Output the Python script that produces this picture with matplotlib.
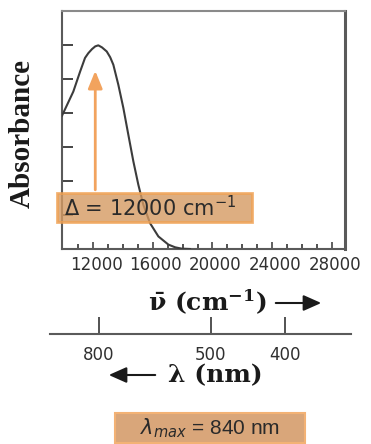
import matplotlib
matplotlib.use("Agg")
import matplotlib.pyplot as plt
from matplotlib.patches import Rectangle, FancyArrowPatch
import matplotlib.transforms as mtransforms

# ---- data ----
wavenumber = [9922, 10680, 11129, 11464, 11685, 11933, 12150, 12355, 12600, 12918,
              13150, 13361, 13696, 14031, 14366, 14701, 15036, 15371, 15820, 16377,
              17047, 17500, 17945, 18500]
absorbance = [3.92, 4.63, 5.21, 5.62, 5.76, 5.88, 5.96, 5.99, 5.93, 5.81,
              5.64, 5.42, 4.83, 4.15, 3.36, 2.58, 1.89, 1.30, 0.76, 0.37,
              0.13, 0.05, 0.01, 0.0]

nu_major = [12000, 16000, 20000, 24000, 28000]
nu_labels = ["12000", "16000", "20000", "24000", "28000"]
nu_minor = list(range(11000, 28000, 1000))
y_ticks = [1, 2, 3, 4, 5, 6]

lam_ticks = [800, 500, 400]
lam_labels = ["800", "500", "400"]

delta_text = r"Δ = 12000 cm$^{-1}$"
lmax_text = r"$\lambda_{\mathit{max}}$ = 840 nm"

W, H = 371, 444
fig = plt.figure(figsize=(W / 100, H / 100), dpi=100)

def fx(x):
    return x / W

def fy(y):
    return 1 - y / H

SP = "#5a5a5a"
ORANGE = "#f2a35e"

# ---- main axes ----
ax = fig.add_axes([fx(62), fy(249), fx(345) - fx(62), fy(11) - fy(249)])
ax.plot(wavenumber, absorbance, color="#3c3c3c", lw=1.5, zorder=3)
ax.set_xlim(9922, 28880)
ax.set_ylim(0, 7)
ax.set_xticks(nu_major)
ax.set_xticklabels(nu_labels, fontfamily="DejaVu Sans", fontsize=12, color="#303030")
ax.set_xticks(nu_minor, minor=True)
ax.set_yticks(y_ticks)
ax.set_yticklabels([])
ax.tick_params(axis="x", which="major", direction="in", length=5, width=1.2, color="#444", pad=5)
ax.tick_params(axis="x", which="minor", direction="in", length=3.5, width=1.2, color="#333")
ax.tick_params(axis="y", direction="in", length=8, width=1.4, color="#444")
for s in ax.spines.values():
    s.set_color(SP)
    s.set_linewidth(1.5)
ax.spines["right"].set_linewidth(2.2)
ax.spines["top"].set_color("#8a8a8a")
off = mtransforms.ScaledTranslation(3 / 100, 0, fig.dpi_scale_trans)
for lab in ax.get_xticklabels():
    lab.set_transform(lab.get_transform() + off)

ax.annotate("", xy=(12150, 5.24), xytext=(12150, 1.74),
            arrowprops=dict(arrowstyle="-|>,head_length=1.05,head_width=0.43",
                            color=ORANGE, lw=2, mutation_scale=10, shrinkA=0, shrinkB=0),
            zorder=4)

fig.text(fx(22), fy(133), "Absorbance", rotation=90, ha="center", va="center",
         fontfamily="Liberation Serif", fontweight="bold", fontsize=21, color="#1a1a1a")

# Delta box
fig.add_artist(Rectangle((fx(57), fy(222)), fx(252) - fx(57), fy(193) - fy(222),
                         transform=fig.transFigure, facecolor="#d59a62", alpha=0.8,
                         edgecolor="#f0a050", lw=2, zorder=5))
fig.text(fx(64), fy(208), delta_text, ha="left", va="center",
         fontfamily="DejaVu Sans", fontsize=15, color="#2a2a2a", zorder=6)

# ---- wavelength axis ----
ax2 = fig.add_axes([fx(50), fy(334), fx(351) - fx(50), 0.04])
ax2.set_facecolor("none")
ax2.set_xlim(9207, 29435)
ax2.set_ylim(0, 1)
ax2.set_xticks([1e7 / l for l in lam_ticks])
ax2.set_xticklabels(lam_labels, fontfamily="DejaVu Sans", fontsize=12, color="#303030")
ax2.set_yticks([])
for k in ["left", "right", "top"]:
    ax2.spines[k].set_visible(False)
ax2.spines["bottom"].set_color(SP)
ax2.spines["bottom"].set_linewidth(1.5)
ax2.tick_params(axis="x", direction="in", length=12, width=1.3, color="#444", pad=9)

# axis titles
fig.text(fx(207), fy(302), r"$\mathbf{\bar{\nu}}$ (cm$^{\mathbf{-1}}$)", ha="center", va="center",
         fontfamily="DejaVu Serif", fontweight="bold", fontsize=18, color="#1a1a1a",
         math_fontfamily="dejavuserif")
fig.add_artist(FancyArrowPatch((fx(273), fy(303)), (fx(324), fy(303)), transform=fig.transFigure,
                               arrowstyle="-|>,head_length=0.9,head_width=0.4", mutation_scale=12,
                               color="#1a1a1a", lw=1.5))
fig.text(fx(215), fy(375), "λ (nm)", ha="center", va="center",
         fontfamily="DejaVu Serif", fontweight="bold", fontsize=18, color="#1a1a1a")
fig.add_artist(FancyArrowPatch((fx(158), fy(375)), (fx(106), fy(375)), transform=fig.transFigure,
                               arrowstyle="-|>,head_length=0.9,head_width=0.4", mutation_scale=12,
                               color="#1a1a1a", lw=1.5))

# lambda max box
fig.add_artist(Rectangle((fx(115), fy(443)), fx(305) - fx(115), fy(413) - fy(443),
                         transform=fig.transFigure, facecolor="#d9a67a",
                         edgecolor="#f3b275", lw=1.5, zorder=5))
fig.text(fx(210), fy(428), lmax_text, ha="center", va="center",
         fontfamily="Liberation Sans", fontsize=15, color="#2a2a2a", zorder=6)

fig.savefig("out.png", dpi=100)
